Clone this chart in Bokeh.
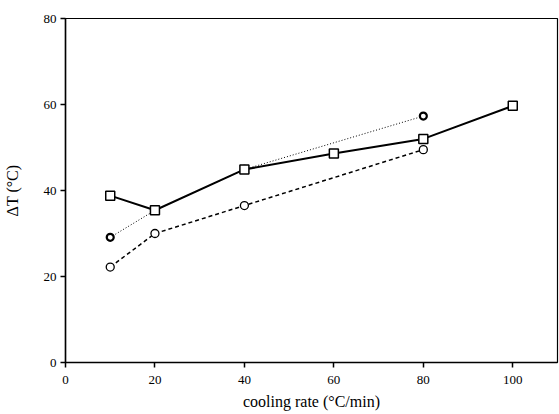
from bokeh.plotting import figure
from bokeh.embed import file_html
from bokeh.resources import INLINE
from bokeh.models import Range1d, FixedTicker

# data
sq_x = [10, 20, 40, 60, 80, 100]
sq_y = [38.8, 35.4, 44.9, 48.6, 52.0, 59.7]
dm_x = [10, 20, 40, 80]
dm_y = [29.1, 35.4, 44.9, 57.3]
ci_x = [10, 20, 40, 80]
ci_y = [22.2, 30.0, 36.5, 49.5]
x_ticks = [0, 20, 40, 60, 80, 100]
y_ticks = [0, 20, 40, 60, 80]

FONT = "Liberation Serif"

p = figure(width=559, height=412, output_backend="svg", toolbar_location=None,
           x_range=Range1d(0, 110), y_range=Range1d(0, 80),
           min_border_left=63, min_border_right=2, min_border_top=18, min_border_bottom=48)
p.grid.visible = False
p.outline_line_color = "black"
p.outline_line_width = 1.2

# dotted diamonds
p.line(dm_x, dm_y, line_color="black", line_width=1, line_dash="1 2")
p.scatter(dm_x, dm_y, marker="circle", size=7, fill_color="white", line_color="black", line_width=2.2)
# dashed circles
p.line(ci_x, ci_y, line_color="black", line_width=1.5, line_dash="4 3")
p.scatter(ci_x, ci_y, marker="circle", size=8, fill_color="white", line_color="black", line_width=1.3)
# solid squares
p.line(sq_x, sq_y, line_color="black", line_width=2)
p.scatter(sq_x, sq_y, marker="square", size=9, fill_color="white", line_color="black", line_width=1.5)

for ax in (p.xaxis[0], p.yaxis[0]):
    ax.axis_line_color = "black"
    ax.axis_line_width = 1.5
    ax.major_tick_line_color = "black"
    ax.major_tick_line_width = 1.5
    ax.major_tick_out = 5
    ax.major_tick_in = 0
    ax.minor_tick_line_color = None
    ax.major_label_text_font = FONT
    ax.major_label_text_font_size = "13px"
    ax.major_label_text_color = "black"
    ax.axis_label_text_font = FONT
    ax.axis_label_text_font_size = "16px"
    ax.axis_label_text_font_style = "normal"
    ax.axis_label_text_color = "black"

p.xaxis[0].ticker = FixedTicker(ticks=x_ticks)
p.yaxis[0].ticker = FixedTicker(ticks=y_ticks)
p.xaxis[0].axis_label = "cooling rate (°C/min)"
p.yaxis[0].axis_label = "ΔT (°C)"
p.xaxis[0].axis_label_standoff = 6
p.yaxis[0].axis_label_standoff = 20
p.xaxis[0].major_label_standoff = 8
p.yaxis[0].major_label_standoff = 4

open("out.html", "w").write(file_html(p, INLINE))
